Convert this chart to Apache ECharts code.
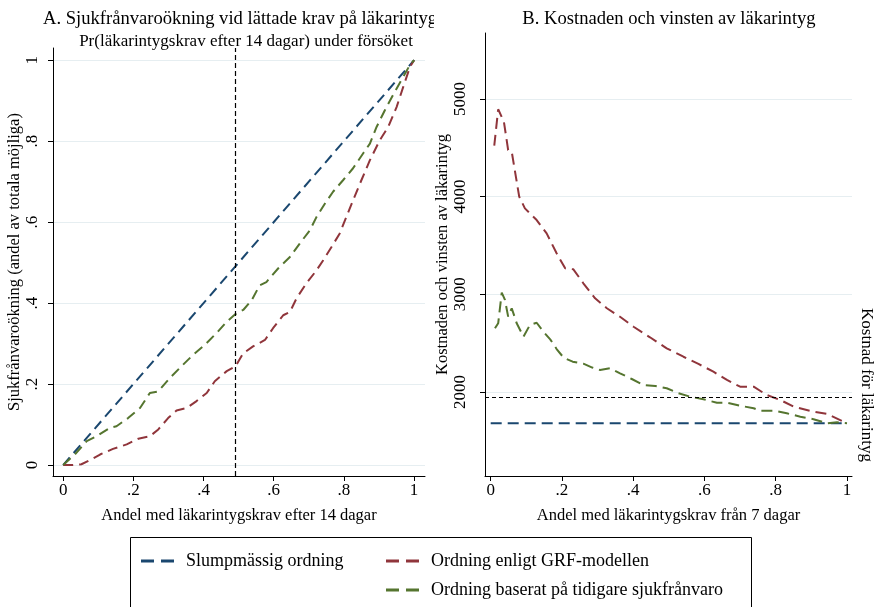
<!DOCTYPE html>
<html>
<head>
<meta charset="utf-8">
<script src="https://cdn.jsdelivr.net/npm/echarts@6/dist/echarts.min.js"></script>
<style>
  html, body { margin: 0; padding: 0; background: #fff; }
  #chart { width: 874px; height: 607px; }
</style>
</head>
<body>
<div id="chart"></div>
<script>
// ticks
const shareTicks = [0, 0.2, 0.4, 0.6, 0.8, 1]
const costTicks = [2000, 3000, 4000, 5000]

// panel A: [andel med krav, sjukfrånvaroökning]
const randomA = [[0, 0], [1, 1]]
const grfA = [[0, 0], [0.028, 0.0], [0.052, 0.002], [0.076, 0.012], [0.105, 0.026], [0.142, 0.040], [0.181, 0.051],
  [0.214, 0.065], [0.247, 0.071], [0.271, 0.088], [0.299, 0.116], [0.323, 0.135], [0.352, 0.141], [0.380, 0.158],
  [0.409, 0.178], [0.432, 0.207], [0.466, 0.232], [0.491, 0.244], [0.513, 0.276], [0.541, 0.293], [0.575, 0.309],
  [0.598, 0.338], [0.627, 0.370], [0.646, 0.378], [0.665, 0.412], [0.693, 0.449], [0.722, 0.481], [0.741, 0.506],
  [0.765, 0.539], [0.788, 0.572], [0.807, 0.613], [0.826, 0.654], [0.850, 0.704], [0.874, 0.753], [0.902, 0.802],
  [0.926, 0.835], [0.950, 0.884], [0.969, 0.934], [0.988, 0.983], [1, 1]]
const priorA = [[0, 0], [0.033, 0.026], [0.067, 0.059], [0.095, 0.071], [0.133, 0.092], [0.152, 0.096], [0.185, 0.116],
  [0.219, 0.141], [0.247, 0.178], [0.271, 0.182], [0.304, 0.215], [0.337, 0.244], [0.370, 0.272], [0.404, 0.297],
  [0.437, 0.326], [0.466, 0.354], [0.491, 0.373], [0.513, 0.383], [0.537, 0.407], [0.560, 0.444], [0.579, 0.452],
  [0.613, 0.486], [0.646, 0.514], [0.674, 0.547], [0.703, 0.580], [0.722, 0.613], [0.746, 0.646], [0.769, 0.675],
  [0.798, 0.704], [0.826, 0.733], [0.855, 0.770], [0.874, 0.794], [0.893, 0.835], [0.917, 0.877], [0.940, 0.914],
  [0.964, 0.951], [0.988, 0.988], [1, 1]]
const trialShare = 0.49

// panel B: [andel med krav, kostnad]
const randomB = [[0, 1680], [1, 1680]]
const grfB = [[0.010, 4521], [0.021, 4894], [0.037, 4767], [0.049, 4477], [0.059, 4460], [0.080, 4000], [0.096, 3880],
  [0.110, 3829], [0.129, 3760], [0.157, 3624], [0.185, 3420], [0.209, 3266], [0.232, 3256], [0.260, 3113],
  [0.293, 2959], [0.326, 2857], [0.363, 2770], [0.401, 2668], [0.447, 2560], [0.494, 2447], [0.541, 2361],
  [0.583, 2287], [0.625, 2208], [0.663, 2123], [0.700, 2054], [0.738, 2054], [0.775, 1969], [0.813, 1918],
  [0.850, 1850], [0.906, 1798], [0.944, 1775], [1.0, 1680]]
const priorB = [[0.012, 2652], [0.021, 2703], [0.031, 3017], [0.040, 2942], [0.049, 2771], [0.059, 2857], [0.073, 2703],
  [0.092, 2566], [0.110, 2686], [0.129, 2709], [0.148, 2617], [0.167, 2539], [0.185, 2440], [0.205, 2350],
  [0.230, 2310], [0.260, 2290], [0.285, 2250], [0.307, 2225], [0.335, 2243], [0.363, 2191], [0.396, 2133],
  [0.429, 2072], [0.462, 2061], [0.494, 2038], [0.527, 1987], [0.560, 1952], [0.597, 1925], [0.635, 1890],
  [0.663, 1890], [0.700, 1860], [0.738, 1833], [0.756, 1809], [0.794, 1809], [0.831, 1782], [0.869, 1747],
  [0.906, 1721], [0.944, 1680], [0.972, 1690], [1.0, 1680]]
const certCost = 1945

const names = ['Slumpmässig ordning', 'Ordning enligt GRF-modellen', 'Ordning baserat på tidigare sjukfrånvaro']
const colors = ['#1a476f', '#90353b', '#55752f']

const font = 'Liberation Serif, Times New Roman, serif'
const fmtShare = v => (v === 0 || v === 1) ? String(v) : String(v).replace(/^0/, '')

function xAxisCfg(grid, min, max, ticks, title) {
  return {
    gridIndex: grid,
    type: 'value',
    min: min,
    max: max,
    name: title,
    nameLocation: 'middle',
    nameGap: 31,
    nameTextStyle: { fontFamily: font, fontSize: 16.5, color: '#000' },
    axisLine: { show: true, onZero: false, lineStyle: { color: '#000', width: 1 } },
    axisTick: { show: true, length: 5, customValues: ticks, lineStyle: { color: '#000' } },
    axisLabel: { customValues: ticks, formatter: fmtShare, fontFamily: font, fontSize: 17, color: '#000', margin: 6 },
    splitLine: { show: false }
  }
}

function yAxisCfg(grid, min, max, ticks, title, fmt, margin, gap) {
  return {
    gridIndex: grid,
    type: 'value',
    min: min,
    max: max,
    name: title,
    nameLocation: 'middle',
    nameGap: gap,
    nameTextStyle: { fontFamily: font, fontSize: 16.5, color: '#000' },
    axisLine: { show: true, onZero: false, lineStyle: { color: '#000', width: 1 } },
    axisTick: { show: true, length: 5, customValues: ticks, lineStyle: { color: '#000' } },
    axisLabel: { customValues: ticks, formatter: fmt, rotate: 90, fontFamily: font, fontSize: 17, color: '#000', margin: margin },
    splitLine: { show: true, lineStyle: { color: '#e6eef1', width: 1 } }
  }
}

function line(i, grid, data, dash, extra) {
  return Object.assign({
    name: names[i],
    type: 'line',
    xAxisIndex: grid,
    yAxisIndex: grid,
    data: data,
    symbol: 'none',
    showSymbol: false,
    silent: true,
    itemStyle: { color: colors[i] },
    lineStyle: { color: colors[i], width: 2, type: dash }
  }, extra || {})
}

const legendIcon = 'path://M0,0h13v3h-13z M20,0h13v3h-13z'
const legendText = { fontFamily: font, fontSize: 18, color: '#000', padding: [0, 0, 0, 7] }

let chart = echarts.init(document.getElementById('chart'))
chart.setOption({
  animation: false,
  backgroundColor: '#fff',
  title: [
    { text: 'A. Sjukfrånvaroökning vid lättade krav på läkarintyg', left: 43, top: 10, padding: 0,
      textStyle: { fontFamily: font, fontSize: 18.6, fontWeight: 'normal', color: '#000' } },
    { text: 'Pr(läkarintygskrav efter 14 dagar) under försöket', left: 246, top: 33, padding: 0, textAlign: 'center',
      textStyle: { fontFamily: font, fontSize: 17, fontWeight: 'normal', color: '#000' } },
    { text: 'B. Kostnaden och vinsten av läkarintyg', left: 669, top: 10, padding: 0, textAlign: 'center',
      textStyle: { fontFamily: font, fontSize: 18.6, fontWeight: 'normal', color: '#000' } }
  ],
  legend: [
    { data: [names[0]], left: 141, top: 552, padding: 0, icon: legendIcon, itemWidth: 33, itemHeight: 3,
      textStyle: legendText, selectedMode: false },
    { data: [names[1], names[2]], orient: 'vertical', left: 386, top: 552, padding: 0, itemGap: 11,
      icon: legendIcon, itemWidth: 33, itemHeight: 3, textStyle: legendText, selectedMode: false }
  ],
  grid: [
    { left: 53, right: 449, top: 48, bottom: 131 },
    { left: 485, right: 22, top: 33, bottom: 131 }
  ],
  xAxis: [
    xAxisCfg(0, -0.029, 1.031, shareTicks, 'Andel med läkarintygskrav efter 14 dagar'),
    xAxisCfg(1, -0.016, 1.014, shareTicks, 'Andel med läkarintygskrav från 7 dagar')
  ],
  yAxis: [
    yAxisCfg(0, -0.027, 1.030, shareTicks, 'Sjukfrånvaroökning (andel av totala möjliga)', fmtShare, 12, 28),
    yAxisCfg(1, 1140, 5675, costTicks, 'Kostnaden och vinsten av läkarintyg', v => String(v), 16, 32)
  ],
  graphic: [
    // klipp titeln A vid panelgränsen
    { type: 'rect', z: 100, shape: { x: 434, y: 0, width: 40, height: 31 }, style: { fill: '#fff' } },
    { type: 'rect', z: 100, shape: { x: 130.5, y: 537.5, width: 621, height: 90 },
      style: { fill: 'none', stroke: '#000', lineWidth: 1 } },
    { type: 'text', z: 100, x: 866, y: 385, rotation: -Math.PI / 2,
      style: { text: 'Kostnad för läkarintyg', font: '17px ' + font, fill: '#000', align: 'center', verticalAlign: 'middle' } }
  ],
  series: [
    line(0, 0, randomA, [10, 6], {
      markLine: {
        silent: true, symbol: 'none', label: { show: false },
        lineStyle: { color: '#000', width: 1.2, type: [5, 3] },
        data: [{ xAxis: trialShare }]
      }
    }),
    line(1, 0, grfA, [10, 6]),
    line(2, 0, priorA, [10, 6]),
    line(0, 1, randomB, [11, 6], {
      markLine: {
        silent: true, symbol: 'none', label: { show: false },
        lineStyle: { color: '#000', width: 1, type: [4, 3] },
        data: [{ yAxis: certCost }]
      }
    }),
    line(1, 1, grfB, [11, 6]),
    line(2, 1, priorB, [11, 6])
  ]
})
</script>
</body>
</html>
